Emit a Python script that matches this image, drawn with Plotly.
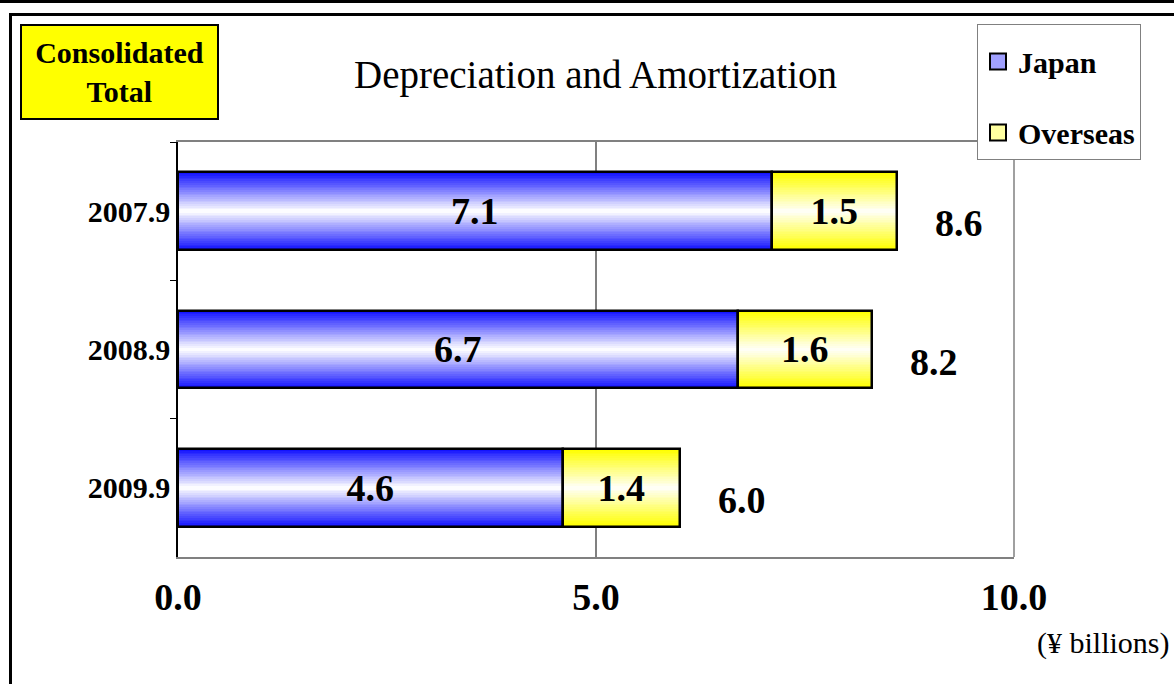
import plotly.graph_objects as go

# ---- data ----
categories = ["2007.9", "2008.9", "2009.9"]
japan = [7.1, 6.7, 4.6]
overseas = [1.5, 1.6, 1.4]
total_labels = ["8.6", "8.2", "6.0"]
japan_labels = ["7.1", "6.7", "4.6"]
overseas_labels = ["1.5", "1.6", "1.4"]
x_tickvals = [0, 5, 10]
x_ticktext = ["0.0", "5.0", "10.0"]

W, H = 1174, 684
FONT = "Liberation Serif"
BAR_W = 0.56
N = 22

def mix(c1, c2, t):
    return "rgb(%d,%d,%d)" % tuple(round(a + (b - a) * t) for a, b in zip(c1, c2))

BLUE_EDGE, BLUE_CENTER = (20, 20, 255), (252, 252, 255)
YEL_EDGE, YEL_CENTER = (255, 255, 0), (255, 255, 245)

fig = go.Figure()
tops = [j + o for j, o in zip(japan, overseas)]

for k in range(N):
    f = 1 - k / N
    t = k / (N - 1)
    fig.add_trace(go.Bar(y=categories, x=japan, base=0, orientation="h",
                         width=BAR_W * f, marker=dict(color=mix(BLUE_EDGE, BLUE_CENTER, t), line=dict(width=0)),
                         showlegend=False, hoverinfo="skip"))
    fig.add_trace(go.Bar(y=categories, x=overseas, base=japan, orientation="h",
                         width=BAR_W * f, marker=dict(color=mix(YEL_EDGE, YEL_CENTER, t), line=dict(width=0)),
                         showlegend=False, hoverinfo="skip"))

label_font = dict(family=FONT, size=38, color="black", weight="bold")
fig.add_trace(go.Bar(y=categories, x=japan, base=0, orientation="h", width=BAR_W,
                     marker=dict(color="rgba(0,0,0,0)", line=dict(color="black", width=2.5)),
                     text=japan_labels, textposition="inside", insidetextanchor="middle",
                     textfont=label_font, showlegend=False, hoverinfo="skip"))
fig.add_trace(go.Bar(y=categories, x=overseas, base=japan, orientation="h", width=BAR_W,
                     marker=dict(color="rgba(0,0,0,0)", line=dict(color="black", width=2.5)),
                     text=overseas_labels, textposition="inside", insidetextanchor="middle",
                     textfont=label_font, showlegend=False, hoverinfo="skip"))

# legend-only entries
fig.add_trace(go.Scatter(y=[None], x=[None], mode="markers", name="Japan", legendgroup="a",
                         marker=dict(symbol="square", size=18, color="#a0a0ff",
                                     line=dict(color="black", width=2))))
fig.add_trace(go.Scatter(y=[None], x=[None], mode="markers", name="Overseas", legendgroup="b",
                         marker=dict(symbol="square", size=18, color="#ffffa0",
                                     line=dict(color="black", width=2))))

annotations = []
for i, (tp, lab) in enumerate(zip(tops, total_labels)):
    annotations.append(dict(x=tp, y=i, xref="x", yref="y", text=lab, showarrow=False,
                            xanchor="left", xshift=36, yshift=-12,
                            font=dict(family=FONT, size=38, color="black", weight="bold")))

annotations += [
    dict(x=596 / W, y=1 - 75 / H, xref="paper", yref="paper", text="Depreciation and Amortization",
         showarrow=False, xanchor="center", yanchor="middle",
         font=dict(family=FONT, size=39, color="black")),
    dict(x=20 / W, y=1 - 24 / H, xref="paper", yref="paper", text="Consolidated<br>Total",
         showarrow=False, xanchor="left", yanchor="top", width=191, height=88,
         bgcolor="#ffff00", bordercolor="black", borderwidth=2, borderpad=2,
         font=dict(family=FONT, size=30, color="black", weight="bold")),
    dict(x=1172 / W, y=1 - 643 / H, xref="paper", yref="paper", text="(¥ billions)",
         showarrow=False, xanchor="right", yanchor="middle",
         font=dict(family=FONT, size=30, color="black")),
]

shapes = [
    dict(type="line", xref="paper", yref="paper", x0=0, x1=1, y0=1 - 1.5 / H, y1=1 - 1.5 / H,
         line=dict(color="black", width=3)),
    dict(type="line", xref="paper", yref="paper", x0=9 / W, x1=1, y0=1 - 14.5 / H, y1=1 - 14.5 / H,
         line=dict(color="black", width=3)),
    dict(type="line", xref="paper", yref="paper", x0=10.5 / W, x1=10.5 / W, y0=0, y1=1 - 13 / H,
         line=dict(color="black", width=3)),
    dict(type="line", xref="x domain", yref="y domain", x0=1, x1=1, y0=0, y1=1,
         line=dict(color="#808080", width=1.5)),
]

fig.update_layout(
    template="none",
    width=W, height=H, autosize=False,
    margin=dict(l=0, r=0, t=0, b=0, pad=0, autoexpand=False),
    paper_bgcolor="white", plot_bgcolor="white",
    barmode="overlay", bargap=0,
    font=dict(family=FONT, color="black"),
    xaxis=dict(domain=[178 / W, 1014 / W], range=[0, 10], tickvals=x_tickvals, ticktext=x_ticktext,
               showgrid=True, gridcolor="#808080", gridwidth=1.5, zeroline=False,
               showline=True, linecolor="#808080", linewidth=1.5, mirror=True,
               ticks="", ticklabelstandoff=6, automargin=False,
               tickfont=dict(family=FONT, size=38, color="black", weight="bold")),
    yaxis=dict(domain=[1 - 557 / H, 1 - 142 / H], type="category", categoryorder="array",
               categoryarray=categories, range=[2.5, -0.5],
               showgrid=False, zeroline=False, showline=True, linecolor="black", linewidth=1.5,
               ticks="outside", ticklen=6, tickcolor="black", tickwidth=1, tickson="boundaries",
               automargin=False,
               tickfont=dict(family=FONT, size=30, color="black", weight="bold")),
    legend=dict(x=977 / W, y=1 - 24 / H, xanchor="left", yanchor="top",
                bordercolor="#808080", borderwidth=1, bgcolor="white",
                title=dict(text=" ", font=dict(family=FONT, size=8)),
                traceorder="grouped", tracegroupgap=29, itemwidth=30, itemsizing="trace",
                font=dict(family=FONT, size=30, color="black", weight="bold")),
    annotations=annotations,
    shapes=shapes,
    showlegend=True,
)

fig.write_html("out.html", config={"displayModeBar": False},
               post_script="document.body.style.margin='0';document.body.style.overflow='hidden';")
